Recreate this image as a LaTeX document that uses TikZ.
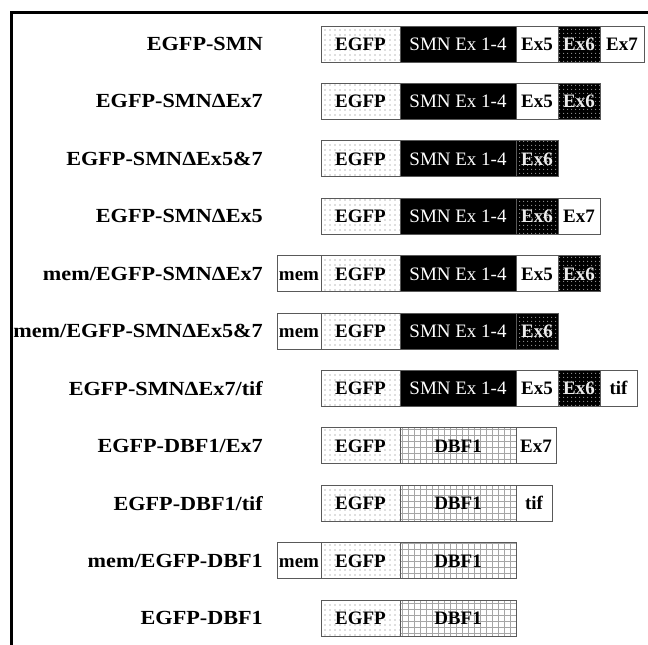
\documentclass[tikz,border=0pt]{standalone}
\usepackage{fontspec}
\setmainfont{Liberation Serif}
\usetikzlibrary{positioning,patterns.meta}

\tikzset{
  seg/.style={draw=black!65, line width=0.9pt, minimum height=36pt,
    inner sep=0pt, outer sep=0pt, anchor=west,
    text height=12.8pt, text depth=0pt,
    font=\fontsize{19}{22}\selectfont\bfseries},
  egfp/.style={seg, minimum width=79pt,
    pattern={Dots[distance=5pt,radius=0.65pt]}, pattern color=black!55},
  smn/.style={seg, minimum width=116pt, fill=black, text=white,
    font=\fontsize{19}{22}\selectfont},
  exon/.style={seg, minimum width=42pt, fill=white},
  dark/.style={exon, preaction={fill=black}, fill=none,
    pattern={Dots[distance=4pt,radius=0.7pt]}, pattern color=gray!80, text=white!85!gray},
  dbf/.style={seg, minimum width=116pt,
    pattern={Hatch[distance=6pt,angle=0,line width=0.6pt]}, pattern color=gray!70},
  mem/.style={exon, minimum width=44pt},
  lbl/.style={anchor=east, inner sep=0pt, xscale=1.11, transform shape,
    font=\fontsize{20}{24}\selectfont\bfseries}
}

\begin{document}
\begin{tikzpicture}[x=1pt,y=-1pt]
  \useasboundingbox (0,0) rectangle (648,645);
  \draw[line width=3pt] (648,12) -- (11,12) -- (11,645);

  \foreach \i in {1,...,11}
    \coordinate (row\i) at (321,{44+57.4*(\i-1)});

  \foreach \i/\t in {1/{EGFP-SMN}, 2/{EGFP-SMNΔEx7}, 3/{EGFP-SMNΔEx5\&7},
      4/{EGFP-SMNΔEx5}, 5/{mem/EGFP-SMNΔEx7}, 6/{mem/EGFP-SMNΔEx5\&7},
      7/{EGFP-SMNΔEx7/tif}, 8/{EGFP-DBF1/Ex7}, 9/{EGFP-DBF1/tif},
      10/{mem/EGFP-DBF1}, 11/{EGFP-DBF1}}
    \node[lbl] (lbl\i) at ([xshift=-58pt]row\i) {\t};

  % SMN constructs
  \node[egfp] (e1) at (row1) {EGFP};
  \node[smn, right=0pt of e1] (s1) {SMN Ex 1-4};
  \node[exon, right=0pt of s1] (x5a) {Ex5};
  \node[dark, right=0pt of x5a] (x6a) {Ex6};
  \node[exon, right=0pt of x6a, minimum width=44pt] (x7a) {Ex7};

  \node[egfp] (e2) at (row2) {EGFP};
  \node[smn, right=0pt of e2] (s2) {SMN Ex 1-4};
  \node[exon, right=0pt of s2] (x5b) {Ex5};
  \node[dark, right=0pt of x5b] (x6b) {Ex6};

  \node[egfp] (e3) at (row3) {EGFP};
  \node[smn, right=0pt of e3] (s3) {SMN Ex 1-4};
  \node[dark, right=0pt of s3] (x6c) {Ex6};

  \node[egfp] (e4) at (row4) {EGFP};
  \node[smn, right=0pt of e4] (s4) {SMN Ex 1-4};
  \node[dark, right=0pt of s4] (x6d) {Ex6};
  \node[exon, right=0pt of x6d] (x7d) {Ex7};

  \node[egfp] (e5) at (row5) {EGFP};
  \node[mem, left=0pt of e5] (m5) {mem};
  \node[smn, right=0pt of e5] (s5) {SMN Ex 1-4};
  \node[exon, right=0pt of s5] (x5e) {Ex5};
  \node[dark, right=0pt of x5e] (x6e) {Ex6};

  \node[egfp] (e6) at (row6) {EGFP};
  \node[mem, left=0pt of e6] (m6) {mem};
  \node[smn, right=0pt of e6] (s6) {SMN Ex 1-4};
  \node[dark, right=0pt of s6] (x6f) {Ex6};

  \node[egfp] (e7) at (row7) {EGFP};
  \node[smn, right=0pt of e7] (s7) {SMN Ex 1-4};
  \node[exon, right=0pt of s7] (x5g) {Ex5};
  \node[dark, right=0pt of x5g] (x6g) {Ex6};
  \node[exon, right=0pt of x6g, minimum width=37pt] (tg) {tif};

  % DBF1 constructs
  \node[egfp] (e8) at (row8) {EGFP};
  \node[dbf, right=0pt of e8] (d8) {DBF1};
  \node[exon, right=0pt of d8, minimum width=40pt] (x7h) {Ex7};

  \node[egfp] (e9) at (row9) {EGFP};
  \node[dbf, right=0pt of e9] (d9) {DBF1};
  \node[exon, right=0pt of d9, minimum width=36pt] (ti) {tif};

  \node[egfp] (e10) at (row10) {EGFP};
  \node[mem, left=0pt of e10] (m10) {mem};
  \node[dbf, right=0pt of e10] (d10) {DBF1};

  \node[egfp] (e11) at (row11) {EGFP};
  \node[dbf, right=0pt of e11] (d11) {DBF1};
\end{tikzpicture}
\end{document}
